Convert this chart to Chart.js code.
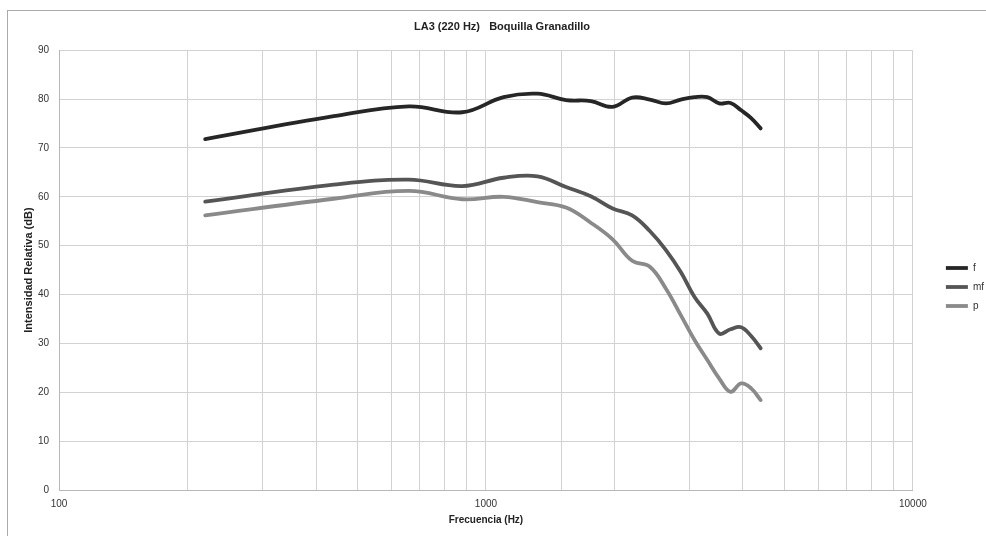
<!DOCTYPE html>
<html><head><meta charset="utf-8">
<script src="https://cdn.jsdelivr.net/npm/chart.js@4.4.0/dist/chart.umd.min.js"></script>
<style>
html,body{margin:0;padding:0;background:#fff;overflow:hidden;width:986px;height:536px}
#frame{position:absolute;left:7px;top:10px;width:1200px;height:800px;border-top:1px solid #aaa;border-left:1px solid #aaa;box-sizing:border-box}
#wrap{position:absolute;left:0;top:0;width:994px;height:536px}
</style></head><body>
<div id="frame"></div>
<div id="wrap"><canvas id="c"></canvas></div>
<script>
// Harmonics of LA3 (220 Hz), in Hz
const frequencies = [220, 440, 660, 880, 1100, 1320, 1540, 1760, 1980, 2200, 2420, 2640, 2860, 3080, 3300, 3520, 3740, 3960, 4180, 4400];
// Relative intensity (dB)
const seriesF  = [71.8, 76.5, 78.5, 77.3, 80.4, 81.1, 79.8, 79.6, 78.4, 80.3, 79.9, 79.1, 79.9, 80.4, 80.4, 79.1, 79.2, 77.7, 76.1, 74.0];
const seriesMf = [59.0, 62.5, 63.5, 62.2, 63.9, 64.2, 62.0, 60.1, 57.6, 56.2, 53.0, 49.1, 44.6, 39.5, 36.1, 32.0, 32.9, 33.3, 31.5, 29.0];
const seriesP  = [56.2, 59.6, 61.2, 59.5, 60.0, 58.9, 57.8, 54.7, 51.3, 46.9, 45.7, 41.2, 35.8, 30.7, 26.6, 22.8, 20.1, 21.8, 20.8, 18.4];
const seriesNames = ['f', 'mf', 'p'];
const xTickLabels = [100, 1000, 10000];
const yTicks = [0, 10, 20, 30, 40, 50, 60, 70, 80, 90];

const FONT = "'Liberation Sans', Arial, sans-serif";
const colors = ['#262626', '#555555', '#8a8a8a'];
const allSeries = [seriesF, seriesMf, seriesP];

const datasets = allSeries.map((s, k) => ({
  label: seriesNames[k],
  data: frequencies.map((f, i) => ({x: f, y: s[i]})),
  borderColor: colors[k],
  backgroundColor: colors[k],
  borderWidth: 3.8,
  pointRadius: 0,
  pointHoverRadius: 0,
  tension: 0.4,
  fill: false,
  borderCapStyle: 'round',
  borderJoinStyle: 'round'
}));

new Chart(document.getElementById('c'), {
  type: 'line',
  data: {datasets},
  options: {
    responsive: true,
    maintainAspectRatio: false,
    animation: false,
    devicePixelRatio: 1,
    layout: {padding: {left: 10, right: 0, top: 0, bottom: 0}},
    plugins: {
      title: {
        display: true,
        text: 'LA3 (220 Hz)   Boquilla Granadillo',
        color: '#222',
        font: {family: FONT, size: 11, weight: 'bold'},
        padding: {top: 20, bottom: 17}
      },
      legend: {
        position: 'right',
        title: {display: true, text: ' ', font: {family: FONT, size: 10}, padding: {top: 0, bottom: 26}},
        labels: {
          usePointStyle: true,
          pointStyle: 'line',
          pointStyleWidth: 22,
          padding: 9,
          color: '#333',
          font: {family: FONT, size: 10}
        }
      },
      tooltip: {enabled: false}
    },
    scales: {
      x: {
        type: 'logarithmic',
        position: 'bottom',
        min: 100,
        max: 10000,
        grid: {color: '#d2d2d2', lineWidth: 1, drawTicks: false},
        border: {color: '#b8b8b8'},
        ticks: {
          autoSkip: false,
          maxRotation: 0,
          padding: 8,
          color: '#333',
          font: {family: FONT, size: 10},
          callback: (v) => xTickLabels.some(t => Math.abs(t - v) < 1e-6) ? String(Math.round(v)) : ''
        },
        title: {display: true, text: 'Frecuencia (Hz)', color: '#222', font: {family: FONT, size: 10, weight: 'bold'}, padding: {top: 0, bottom: 10}},
        afterFit: (s) => { s.height = 46; }
      },
      y: {
        type: 'linear',
        position: 'left',
        min: yTicks[0],
        max: yTicks[yTicks.length - 1],
        grid: {color: '#d2d2d2', lineWidth: 1, drawTicks: false},
        border: {color: '#b8b8b8'},
        ticks: {stepSize: 10, padding: 10, color: '#333', font: {family: FONT, size: 10}},
        title: {display: true, text: 'Intensidad Relativa (dB)', color: '#222', font: {family: FONT, size: 11, weight: 'bold'}, padding: {top: 12, bottom: 0}},
        afterFit: (s) => { s.width = 49; }
      },
      gap: {
        type: 'linear',
        position: 'right',
        display: true,
        grid: {display: false},
        border: {display: false},
        ticks: {display: false},
        afterFit: (s) => { s.width = 24; }
      }
    }
  }
});
</script>
</body></html>
